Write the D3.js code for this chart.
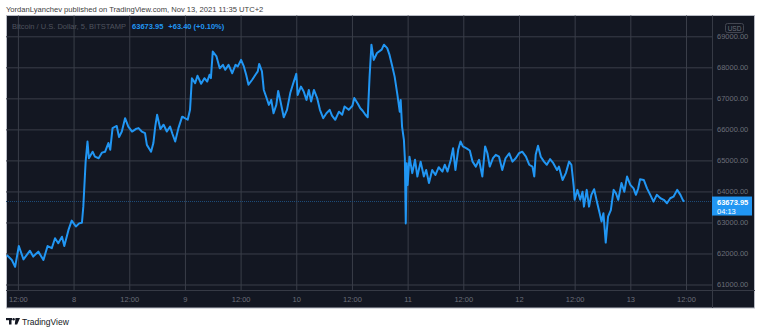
<!doctype html>
<html>
<head>
  <meta charset="utf-8">
  <title>BTCUSD 5m</title>
  <style>
    html, body {
      margin: 0;
      padding: 0;
      background: #fff;
    }
    svg {
      display: block;
      font-family: "Liberation Sans", Arial, sans-serif;
    }
    .grid line { stroke: #3a3e49; }
    .grid path { display: none; }
    .ax path { display: none; }
    .ax text { fill: #6b6e79; font-size: 7.5px; }
  </style>
</head>
<body>
  <div id="vis"></div>

  <script src="https://cdn.jsdelivr.net/npm/d3@7"></script>
  <script>

    // hours counted from Nov 7 2021 00:00 (UTC+2)
    var hours = [9.6,10.7,11.4,12.2,13.2,14.6,15.3,16.4,17.5,18.4,19.3,20.0,20.7,21.5,22.0,22.9,23.6,24.5,25.2,25.8,
      26.1,26.6,27.0,27.3,28.1,28.6,29.4,30.1,30.8,31.5,31.9,32.4,33.3,33.8,34.4,35.1,35.8,36.6,37.4,38.0,
      38.7,39.4,39.8,40.7,41.2,41.6,42.0,42.7,43.4,44.1,44.8,45.3,45.9,46.6,47.4,47.7,48.6,49.1,49.5,50.2,
      50.7,51.5,52.2,52.8,53.3,53.6,54.0,54.8,55.5,56.2,56.7,57.4,58.2,58.9,59.4,60.1,60.7,61.2,61.7,62.5,
      63.2,63.7,64.0,64.6,65.0,65.6,66.1,66.6,67.1,67.7,68.1,68.6,69.3,70.0,70.7,71.4,72.0,72.3,73.0,73.6,
      74.2,74.7,75.2,75.8,76.5,77.1,77.8,78.5,79.2,79.7,80.4,81.2,81.9,82.4,83.3,84.1,84.5,85.3,85.8,86.3,
      86.9,87.4,87.8,88.2,88.7,89.4,90.4,90.9,91.6,92.1,92.7,93.2,93.8,94.3,94.5,94.8,95.2,95.4,95.6,95.8,
      96.0,96.4,97.0,97.6,98.1,98.8,99.5,100.0,100.6,101.3,102.0,102.7,103.5,104.0,104.6,105.3,105.8,106.3,106.9,107.4,
      107.9,108.7,109.4,110.0,110.7,111.4,112.1,112.7,113.2,113.7,114.4,115.0,115.7,116.4,117.1,117.9,118.6,119.3,120.0,120.7,
      121.5,122.2,122.9,123.3,123.6,124.1,124.7,125.4,126.0,126.7,127.4,128.2,128.6,129.4,130.1,130.8,131.3,131.8,132.0,132.6,
      133.2,133.7,134.0,134.6,135.1,135.6,136.2,136.8,137.3,137.8,138.2,138.7,139.2,139.8,140.4,140.9,141.4,142.1,142.7,143.3,
      144.0,144.7,145.2,145.7,146.1,146.9,147.6,148.3,149.0,149.7,150.5,151.2,151.9,152.6,153.3,154.1,154.8,155.3,155.6];

    var prices = [61950,61790,61570,62240,61810,62090,61900,62060,61790,62240,62170,62490,62330,62540,62240,62760,63060,62870,62970,62990,
      63510,64960,65610,65070,65280,65120,65070,65250,65280,65560,65340,66040,66110,65750,65930,66360,66090,65930,66010,66040,
      65930,65880,65500,65280,65560,66090,66470,66010,66150,65930,66090,65860,65610,66040,66410,66390,66310,66630,67650,67490,
      67730,67470,67650,67540,67760,67650,68510,68350,67970,68080,67920,68080,67810,68080,68030,68240,68030,67760,67440,67600,
      67760,67870,68110,67870,67270,67010,66790,66950,66520,66790,67240,66900,66390,66630,67170,67510,67790,67110,67380,67220,
      66950,67270,66900,67270,67010,66630,66360,66520,66630,66440,66310,66570,66470,66740,66630,66760,67010,66820,66680,66600,
      66470,66390,67700,68730,68240,68460,68570,68730,68620,68400,68030,67700,67110,66570,66950,66090,65660,65070,62970,64910,
      64210,65120,64590,65020,64480,64960,64480,64690,64270,64690,64530,64780,64640,64860,64640,65020,65390,64690,65340,65610,
      65450,65390,65320,64960,64800,65020,64480,65450,65230,64800,65070,65180,65120,64690,65070,65230,64960,65070,65230,65280,
      65120,64860,64800,64480,65180,65470,65120,64960,64860,65040,64910,64690,64800,64370,64590,64960,64860,64160,63730,64050,
      63730,63990,63510,64050,63510,63890,64070,63670,63350,63030,63300,62350,63190,63400,64050,63940,63730,64270,63990,64480,
      64210,64100,63890,64100,64390,64370,64100,63890,63670,63890,63780,63730,63620,63780,63830,64050,63890,63730,63674];

    var priceTicks = [61000, 62000, 63000, 64000, 65000, 66000, 67000, 68000, 69000];
    var timeTicks = [12, 24, 36, 48, 60, 72, 84, 96, 108, 120, 132, 144, 156];

    var headline = "YordanLyanchev published on TradingView.com, Nov 13, 2021 11:35 UTC+2";
    var symbolName = "Bitcoin / U.S. Dollar, 5, BITSTAMP";
    var lastPrice = 63673.95;
    var lastChange = "+63.40 (+0.10%)";
    var countdown = "04:13";

    var w = 762, h = 331;
    var panelL = 6, panelT = 15.5, panelR = 755, panelB = 308;
    var plotRight = 712, plotBottom = 290;

    var start = Date.UTC(2021, 10, 7);
    function toDate(hr) { return new Date(start + hr * 3600e3); }

    var data = hours.map(function(d, i) {
      return { t: toDate(d), p: prices[i] };
    });

    var x = d3.scaleUtc()
              .domain([toDate(12), toDate(156)])
              .range([17.9, 686]);

    var y = d3.scaleLinear()
              .domain([61000, 69000])
              .range([284.5, 36.3]);

    var svg = d3.select("#vis")
                .append("svg")
                .attr("width", w)
                .attr("height", h);

    // header line above the panel
    svg.append("text")
       .attr("x", 6)
       .attr("y", 12)
       .attr("fill", "#3d3d3d")
       .attr("font-size", "7.6px")
       .text(headline);

    // dark panel
    svg.append("rect")
       .attr("x", panelL + 0.5)
       .attr("y", panelT)
       .attr("width", panelR - panelL - 1)
       .attr("height", panelB - panelT)
       .attr("fill", "#131722")
       .attr("stroke", "#b8bbc4");

    // grid
    svg.append("g")
       .attr("class", "grid")
       .attr("transform", "translate(" + panelL + ",0)")
       .call(d3.axisLeft(y).tickValues(priceTicks).tickSize(-(plotRight - panelL)).tickFormat(""));

    svg.append("g")
       .attr("class", "grid")
       .attr("transform", "translate(0," + plotBottom + ")")
       .call(d3.axisBottom(x).tickValues(timeTicks.map(toDate)).tickSize(-(plotBottom - panelT)).tickFormat(""));

    // axis separators
    svg.append("line")
       .attr("x1", plotRight + 0.5).attr("x2", plotRight + 0.5)
       .attr("y1", panelT).attr("y2", panelB)
       .attr("stroke", "#363a45");
    svg.append("line")
       .attr("x1", panelL).attr("x2", panelR)
       .attr("y1", plotBottom + 0.5).attr("y2", plotBottom + 0.5)
       .attr("stroke", "#363a45");

    // axes labels
    svg.append("g")
       .attr("class", "ax")
       .attr("transform", "translate(" + plotRight + ",0)")
       .call(d3.axisRight(y).tickValues(priceTicks).tickSize(0).tickPadding(5).tickFormat(d3.format(".2f")));

    svg.append("g")
       .attr("class", "ax")
       .attr("transform", "translate(0," + plotBottom + ")")
       .call(d3.axisBottom(x).tickValues(timeTicks.map(toDate)).tickSize(0).tickPadding(7)
         .tickFormat(function(d) {
           return d.getUTCHours() === 0 ? d.getUTCDate() : "12:00";
         }));

    // last price line
    svg.append("line")
       .attr("x1", panelL).attr("x2", plotRight)
       .attr("y1", y(lastPrice)).attr("y2", y(lastPrice))
       .attr("stroke", "#1f4e7a")
       .attr("stroke-dasharray", "1,1");

    svg.append("clipPath")
       .attr("id", "clip")
       .append("rect")
       .attr("x", panelL).attr("y", panelT)
       .attr("width", plotRight - panelL).attr("height", plotBottom - panelT);

    var line = d3.line()
                 .x(function(d) { return x(d.t); })
                 .y(function(d) { return y(d.p); });

    svg.append("path")
       .datum(data)
       .attr("clip-path", "url(#clip)")
       .attr("d", line)
       .attr("fill", "none")
       .attr("stroke", "#2196f3")
       .attr("stroke-width", 2)
       .attr("stroke-linejoin", "round");

    // legend
    var leg = svg.append("text")
                 .attr("x", 12)
                 .attr("y", 28.5)
                 .attr("font-size", "7.5px");
    leg.append("tspan").attr("fill", "#4f535e").text(symbolName);
    leg.append("tspan").attr("dx", 6).attr("fill", "#2196f3").attr("font-weight", "bold").text(d3.format(".2f")(lastPrice));
    leg.append("tspan").attr("dx", 5).attr("fill", "#2196f3").attr("font-weight", "bold").text(lastChange);

    // USD badge
    svg.append("rect")
       .attr("x", 725.5).attr("y", 23.5)
       .attr("width", 18).attr("height", 9)
       .attr("rx", 2)
       .attr("fill", "none")
       .attr("stroke", "#434651");
    svg.append("text")
       .attr("x", 734.5).attr("y", 30.5)
       .attr("text-anchor", "middle")
       .attr("fill", "#6b6e79")
       .attr("font-size", "6.5px")
       .text("USD");

    // last price tag
    var ly = y(lastPrice);
    svg.append("rect")
       .attr("x", plotRight)
       .attr("y", ly - 5)
       .attr("width", 40)
       .attr("height", 19)
       .attr("fill", "#2196f3");
    svg.append("text")
       .attr("x", plotRight + 5).attr("y", ly + 3)
       .attr("fill", "#fff").attr("font-size", "7.5px").attr("font-weight", "bold")
       .text(d3.format(".2f")(lastPrice));
    svg.append("text")
       .attr("x", plotRight + 5).attr("y", ly + 12)
       .attr("fill", "#fff").attr("font-size", "7.5px")
       .text(countdown);

    // TradingView mark
    var logo = svg.append("g").attr("fill", "#131722");
    logo.append("rect").attr("x", 6).attr("y", 318).attr("width", 6).attr("height", 2.2);
    logo.append("rect").attr("x", 9).attr("y", 318).attr("width", 2.5).attr("height", 6.5);
    logo.append("circle").attr("cx", 13.6).attr("cy", 319.2).attr("r", 1.2);
    logo.append("path").attr("d", "M15.5,318 L20,318 L17.2,324.5 L14.8,324.5 Z");
    svg.append("text")
       .attr("x", 22).attr("y", 324.5)
       .attr("fill", "#131722")
       .attr("font-size", "8.5px")
       .text("TradingView");

  </script>
</body>
</html>
